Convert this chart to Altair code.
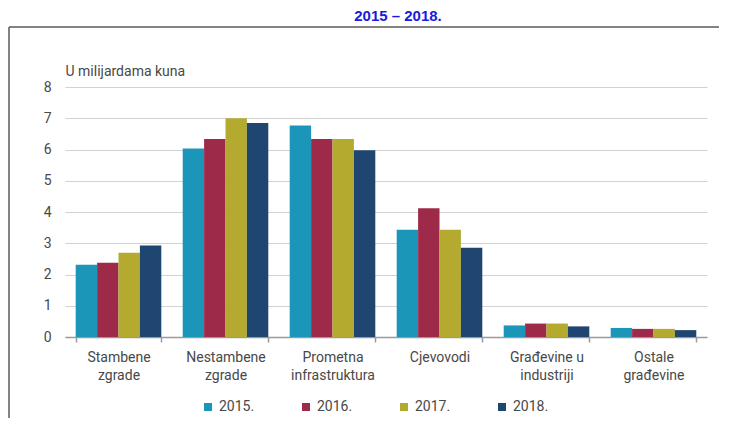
import altair as alt
import pandas as pd

categories = [
    "Stambene\nzgrade",
    "Nestambene\nzgrade",
    "Prometna\ninfrastruktura",
    "Cjevovodi",
    "Građevine u\nindustriji",
    "Ostale\ngrađevine",
]
years = ["2015.", "2016.", "2017.", "2018."]
v2015 = [2.31, 6.03, 6.77, 3.43, 0.37, 0.29]
v2016 = [2.38, 6.34, 6.34, 4.12, 0.43, 0.26]
v2017 = [2.70, 7.00, 6.34, 3.43, 0.43, 0.26]
v2018 = [2.93, 6.85, 5.98, 2.86, 0.34, 0.22]
colors = ["#1b96b9", "#9e2a4a", "#b4aa30", "#1e4670"]

rows = []
for yr, vals in zip(years, [v2015, v2016, v2017, v2018]):
    for c, v in zip(categories, vals):
        rows.append({"kategorija": c, "godina": yr, "vrijednost": v})
df = pd.DataFrame(rows)

FONT = "Roboto"

bars = alt.Chart(df).mark_bar().encode(
    x=alt.X(
        "kategorija:N",
        sort=categories,
        scale=alt.Scale(paddingInner=0.2, paddingOuter=0.1),
        axis=alt.Axis(
            title=None,
            labelExpr="split(datum.label, '\\n')",
            labelAngle=0,
            tickBand="extent",
            domainColor="#9a9a9a",
            domainWidth=1.5,
            tickColor="#9a9a9a",
            tickWidth=1.5,
            tickSize=5,
            labelFont=FONT,
            labelFontSize=14,
            labelColor="#484848",
            labelPadding=8,
            labelLineHeight=18,
            grid=False,
        ),
    ),
    xOffset=alt.XOffset("godina:N", sort=years),
    y=alt.Y(
        "vrijednost:Q",
        scale=alt.Scale(domain=[0, 8]),
        axis=alt.Axis(
            values=list(range(9)),
            title="U milijardama kuna",
            titleAngle=0,
            titleX=0,
            titleY=-9,
            titleAlign="left",
            titleBaseline="bottom",
            titleFont=FONT,
            titleFontSize=14,
            titleFontWeight="normal",
            titleColor="#484848",
            labelFont=FONT,
            labelFontSize=14,
            labelColor="#484848",
            labelPadding=14,
            domain=False,
            ticks=False,
            gridColor="#d2d2d2",
            gridWidth=1.2,
        ),
    ),
    color=alt.Color(
        "godina:N",
        sort=years,
        scale=alt.Scale(domain=years, range=colors),
        legend=alt.Legend(
            title=None,
            orient="none",
            legendX=136,
            legendY=313,
            direction="horizontal",
            symbolType="square",
            symbolSize=64,
            symbolStrokeWidth=0,
            symbolOpacity=1,
            columnPadding=44,
            labelFont=FONT,
            labelFontSize=14,
            labelColor="#484848",
        ),
    ),
)

frame_src = alt.Chart(pd.DataFrame({"f": [0]}))
frame_top = frame_src.mark_rule(color="#5a5a5a", strokeWidth=1.5).encode(
    x=alt.value(-56), x2=alt.value(663), y=alt.value(-60)
)
frame_left = frame_src.mark_rule(color="#5a5a5a", strokeWidth=1.5).encode(
    x=alt.value(-56), y=alt.value(-60), y2=alt.value(331)
)

chart = alt.layer(frame_top, frame_left, bars).properties(
    width=642,
    height=250,
    autosize=alt.AutoSizeParams(type="none"),
    padding={"left": 57, "top": 79, "right": 12, "bottom": 81},
    title=alt.TitleParams(
        "2015 – 2018.",
        font="Liberation Sans Narrow, Arial Narrow, Liberation Sans",
        fontSize=15,
        fontWeight="bold",
        color="#1a1ae0",
        anchor="middle",
        dx=12,
        offset=2,
    ),
).configure_view(stroke=None)

chart.save("out.html", embed_options={"renderer": "svg", "actions": False})
